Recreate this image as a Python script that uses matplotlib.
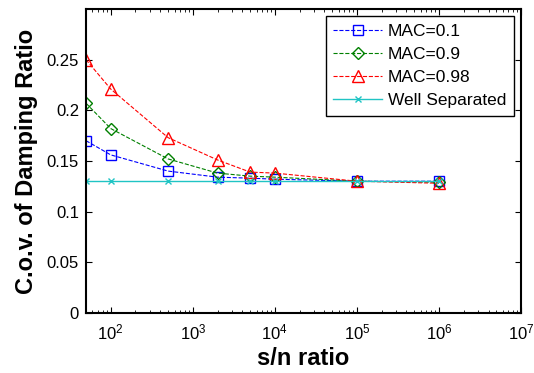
import matplotlib
matplotlib.use("Agg")
import matplotlib.pyplot as plt
from matplotlib.ticker import LogLocator, NullFormatter

plt.rcParams['font.family'] = ['Liberation Sans', 'DejaVu Sans']
plt.rcParams['mathtext.fontset'] = 'custom'
plt.rcParams['mathtext.rm'] = 'Liberation Sans'
plt.rcParams['mathtext.it'] = 'Liberation Sans'

# s/n ratio values
sn = [50, 100, 500, 2000, 5000, 10000, 1e5, 1e6]

# c.o.v. of damping ratio
mac_01 = [0.170, 0.156, 0.140, 0.134, 0.133, 0.132, 0.130, 0.130]
mac_09 = [0.207, 0.182, 0.152, 0.138, 0.135, 0.134, 0.130, 0.129]
mac_098 = [0.250, 0.221, 0.173, 0.151, 0.139, 0.138, 0.130, 0.128]
well_sep = [0.130, 0.130, 0.130, 0.130, 0.130, 0.130, 0.130, 0.130]

labels = ["MAC=0.1", "MAC=0.9", "MAC=0.98", "Well Separated"]
yticks = [0, 0.05, 0.1, 0.15, 0.2, 0.25]

fig = plt.figure(figsize=(5.34, 3.73), dpi=100)
ax = fig.add_axes([0.161, 0.161, 0.815, 0.815])

ax.plot(sn, mac_01, '--', color='#0000ff', marker='s', ms=7, mfc='none',
        mew=1, lw=0.8, label=labels[0])
ax.plot(sn, mac_09, '--', color='#008000', marker='D', ms=6, mfc='none',
        mew=1, lw=0.8, label=labels[1])
ax.plot(sn, mac_098, '--', color='#ff0000', marker='^', ms=8, mfc='none',
        mew=1, lw=0.8, label=labels[2])
ax.plot(sn, well_sep, '-', color='#20c4c4', marker='x', ms=4,
        mew=1, lw=1, label=labels[3])

ax.set_xscale('log')
ax.set_xlim(50, 1e7)
ax.set_ylim(0, 0.3)
ax.set_yticks(yticks)
ax.set_yticklabels(["0", "0.05", "0.1", "0.15", "0.2", "0.25"])
ax.xaxis.set_major_locator(LogLocator(base=10, numticks=10))
ax.xaxis.set_minor_locator(LogLocator(base=10, subs=range(2, 10), numticks=20))
ax.xaxis.set_minor_formatter(NullFormatter())

ax.tick_params(which='both', direction='in', top=True, right=True,
               labelsize=12)
ax.tick_params(axis='x', pad=7)
ax.tick_params(axis='y', pad=5)
ax.tick_params(which='major', length=4)
ax.tick_params(which='minor', length=2)
for s in ax.spines.values():
    s.set_linewidth(1.5)

ax.set_xlabel("s/n ratio", fontsize=17, fontweight='bold', labelpad=3)
ax.set_ylabel("C.o.v. of Damping Ratio", fontsize=17, fontweight='bold',
              labelpad=6)

leg = ax.legend(loc='upper right', fontsize=12.5, fancybox=False,
                edgecolor='black', framealpha=1, handlelength=2.8,
                borderpad=0.45, labelspacing=0.45, handletextpad=0.35,
                borderaxespad=0.4)
leg.get_frame().set_linewidth(1)

fig.savefig("out.png", dpi=100)
